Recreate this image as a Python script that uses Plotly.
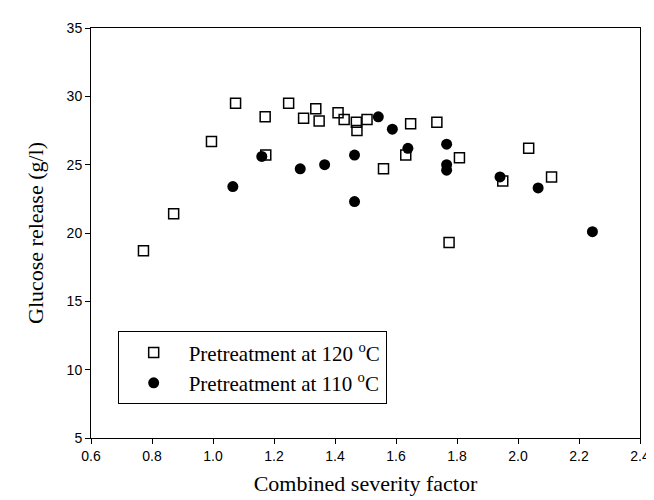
import plotly.graph_objects as go

# Pretreatment at 120 °C (open squares)
x120 = [0.772, 0.871, 0.995, 1.074, 1.171, 1.173, 1.248, 1.297, 1.337, 1.348, 1.410, 1.430,
        1.470, 1.472, 1.505, 1.559, 1.632, 1.648, 1.734, 1.774, 1.808, 1.950, 2.035, 2.110]
y120 = [18.7, 21.4, 26.7, 29.5, 28.5, 25.7, 29.5, 28.4, 29.1, 28.2, 28.8, 28.3,
        28.1, 27.5, 28.3, 24.7, 25.7, 28.0, 28.1, 19.3, 25.5, 23.8, 26.2, 24.1]

# Pretreatment at 110 °C (filled circles)
x110 = [1.065, 1.160, 1.286, 1.366, 1.464, 1.464, 1.542, 1.588, 1.639, 1.766, 1.766, 1.766,
        1.941, 2.066, 2.244]
y110 = [23.4, 25.6, 24.7, 25.0, 25.7, 22.3, 28.5, 27.6, 26.2, 26.5, 25.0, 24.6,
        24.1, 23.3, 20.1]

xticks = [0.6, 0.8, 1.0, 1.2, 1.4, 1.6, 1.8, 2.0, 2.2, 2.4]
yticks = [5, 10, 15, 20, 25, 30, 35]

fig = go.Figure()
fig.add_trace(go.Scatter(
    x=x120, y=y120, mode="markers", name="Pretreatment at 120 <sup>o</sup>C",
    marker=dict(symbol="square-open", size=10, color="black", line=dict(width=1.5, color="black")),
))
fig.add_trace(go.Scatter(
    x=x110, y=y110, mode="markers", name="Pretreatment at 110 <sup>o</sup>C",
    marker=dict(symbol="circle", size=11, color="black"),
))

axis_common = dict(
    showline=True, linecolor="black", linewidth=1, mirror=True,
    ticks="outside", ticklen=5, tickwidth=1, tickcolor="black",
    showgrid=False, zeroline=False,
    tickfont=dict(family="Liberation Sans, Arial", size=14, color="black"),
)

serif = "Liberation Serif, Times New Roman"

fig.update_layout(
    width=654, height=500,
    margin=dict(l=83, r=15, t=20, b=70),
    paper_bgcolor="white", plot_bgcolor="white",
    xaxis=dict(range=[0.6, 2.4], tickvals=xticks, ticktext=[f"{v:.1f}" for v in xticks],
               title=dict(text="Combined severity factor",
                          font=dict(family=serif, size=22, color="black"),
                          standoff=12),
               **axis_common),
    yaxis=dict(range=[5, 35], tickvals=yticks,
               title=dict(text="Glucose release (g/l)",
                          font=dict(family=serif, size=22, color="black"),
                          standoff=16),
               **axis_common),
    legend=dict(
        x=0.0486, y=0.26, xanchor="left", yanchor="top",
        bordercolor="black", borderwidth=1, bgcolor="white",
        font=dict(family=serif, size=21, color="black"),
        itemwidth=60, tracegroupgap=0,
    ),
    showlegend=True,
)

fig.write_html("out.html")
